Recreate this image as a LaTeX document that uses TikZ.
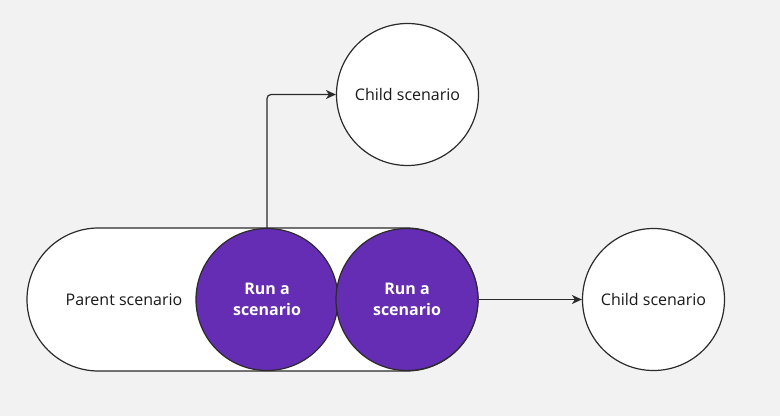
\documentclass[tikz,border=0pt]{standalone}
\usepackage{fontspec}
\setmainfont{Open Sans}
\usetikzlibrary{arrows.meta,shapes.misc}
\definecolor{bg}{HTML}{F2F2F2}
\definecolor{runpurple}{HTML}{652DB3}
\definecolor{edge}{HTML}{2B2B2B}
\begin{document}
\begin{tikzpicture}[x=1pt,y=-1pt,
  every node/.style={font=\fontsize{16}{21}\selectfont},
  scen/.style={circle,draw=edge,line width=1.2pt,fill=white,minimum size=142pt,inner sep=0pt,text=black!90},
  runc/.style={circle,draw=edge,line width=1.2pt,fill=runpurple,minimum size=142pt,inner sep=0pt,text=white,font=\fontsize{16}{21}\selectfont\bfseries,align=center},
  stad/.style={rounded rectangle,draw=edge,line width=1.2pt,fill=white,minimum width=451pt,minimum height=143pt,inner sep=0pt},
  conn/.style={draw=edge,line width=1.2pt,-{Stealth[length=10pt,width=9pt,inset=3pt]}}]
\useasboundingbox[fill=bg] (0,0) rectangle (780,416);
\node[stad] (parent) at (252.5,299.5) {};
\node[text=black!90] (plabel) at (124,300) {Parent scenario};
\node[runc] (run1) at (267,299.5) {Run a\\scenario};
\node[runc] (run2) at (407,299.5) {Run a\\scenario};
\node[scen] (child1) at (407.5,94.5) {Child scenario};
\node[scen] (child2) at (653.5,299.5) {Child scenario};
\draw[conn,rounded corners=4pt] (run1.north) |- (child1.west);
\draw[conn] (run2.east) -- (child2.west);
\end{tikzpicture}
\end{document}
